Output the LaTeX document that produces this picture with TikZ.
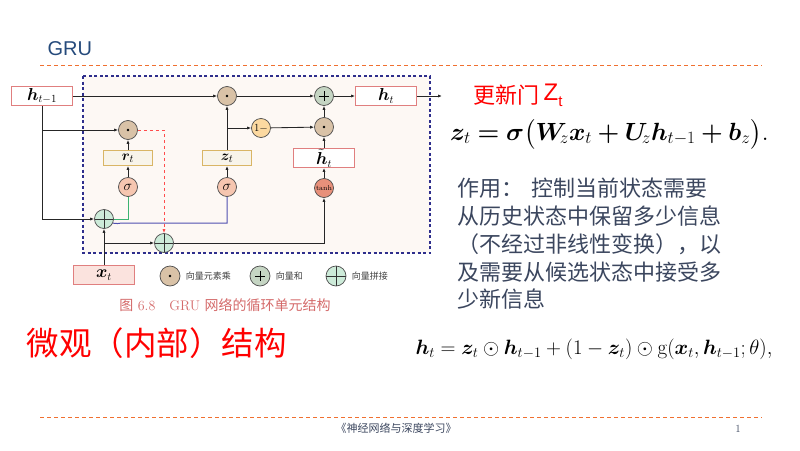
\documentclass[tikz,border=0pt]{standalone}
\usepackage{amsmath,bm}
\usepackage{fontspec}
\newfontfamily\cjk{Noto Sans CJK SC}
\newfontfamily\arial{Liberation Sans}
\usetikzlibrary{arrows.meta,positioning}
\definecolor{mulc}{HTML}{D9C2A7}
\definecolor{addc}{HTML}{C5D5C3}
\definecolor{catc}{HTML}{CDEBD9}
\definecolor{sigc}{HTML}{F6C6B0}
\definecolor{tanhc}{HTML}{E8907A}
\definecolor{onec}{HTML}{FCD9A0}
\definecolor{hbord}{HTML}{E07F7F}
\definecolor{gbord}{HTML}{D9B565}
\definecolor{gfill}{HTML}{F8F4EA}
\definecolor{xfill}{HTML}{FBE3DE}
\definecolor{cellbg}{HTML}{FDF8F4}
\definecolor{navy}{HTML}{2E2E8C}
\definecolor{rulec}{HTML}{F07030}
\definecolor{titlec}{HTML}{254A7B}
\definecolor{bodyc}{HTML}{3B465E}
\definecolor{capc}{HTML}{D46A6A}
\definecolor{rlinec}{HTML}{3CB371}
\definecolor{zlinec}{HTML}{5050B0}
\newcommand{\zgate}{$\bm{z}_t\bm{=}\bm{\sigma}\bigl(\bm{W}_{\!z}\bm{x}_t\bm{+}\bm{U}_{\!z}\bm{h}_{t-1}\bm{+}\bm{b}_z\bigr).$}
\newcommand{\hupd}{$\bm{h}_t=\bm{z}_t\odot\bm{h}_{t-1}+(1-\bm{z}_t)\odot\mathrm{g}(\bm{x}_t,\bm{h}_{t-1};\theta),$}
\tikzset{box/.style={draw=hbord,fill=white,minimum width=61pt,minimum height=19pt,inner sep=0pt,line width=0.9pt,font=\fontsize{16}{18}\selectfont},
  gatebox/.style={box,draw=gbord,fill=gfill,minimum width=49pt,minimum height=15pt,font=\fontsize{15}{17}\selectfont},
  op/.style={circle,draw=black!70,line width=0.7pt,minimum size=19pt,inner sep=0pt},
  mul/.style={op,fill=mulc,path picture={\fill[black] (path picture bounding box.center) circle (1.4pt);}},
  add/.style={op,fill=addc,path picture={\draw[black,line width=1pt] ([xshift=-5pt]path picture bounding box.center) -- ([xshift=5pt]path picture bounding box.center)
      ([yshift=-5pt]path picture bounding box.center) -- ([yshift=5pt]path picture bounding box.center);}},
  cat/.style={op,fill=catc,path picture={\draw[black!80,line width=0.7pt] (path picture bounding box.west) -- (path picture bounding box.east)
      (path picture bounding box.north) -- (path picture bounding box.south);}},
  act/.style={op,fill=sigc,font=\fontsize{15}{16}\selectfont},
  arr/.style={-{Latex[length=4pt,width=3.2pt]},line width=0.85pt,draw=black!85},
  legtext/.style={right=2pt,font=\cjk\fontsize{9}{10}\selectfont,text=black!75}}

\begin{document}
\begin{tikzpicture}[x=1pt,y=-1pt]
\useasboundingbox (0,0) rectangle (800,450);
% slide frame
\node[anchor=west,font=\arial\fontsize{20}{24}\selectfont,text=titlec] (title) at (44,49) {GRU};
\draw[rulec,line width=0.9pt,dash pattern=on 4pt off 3pt] (40,65) -- (762,65);
\draw[rulec,line width=0.9pt,dash pattern=on 4pt off 3pt] (40,417) -- (762,417);
\node[font=\cjk\fontsize{11}{13}\selectfont,text=bodyc] (book) at (396,428) {《神经网络与深度学习》};
\node[font=\fontsize{11}{13}\selectfont,text=bodyc] (page) at (738,429) {1};

% cell
\draw[navy,line width=1.6pt,dash pattern=on 3pt off 2.5pt,fill=cellbg] (83,76) rectangle (430,253);
\node[box] (hprev) at (42,96) {$\bm{h}_{t-1}$};
\node[mul] (mtop) at (227,96) {};
\node[add] (sum) at (324,96) {};
\node[box] (hout) at (386,96) {$\bm{h}_t$};
\coordinate (out) at (442,96);
\node[mul] (mr) at (128,130) {};
\node[gatebox] (rt) at (128,158) {$\bm{r}_t$};
\node[act] (sr) at (128,187) {$\sigma$};
\node[gatebox] (zt) at (227,158) {$\bm{z}_t$};
\node[act] (sz) at (227,187) {$\sigma$};
\node[op,fill=onec,font=\fontsize{11}{12}\selectfont] (one) at (261,128) {1$-$};
\node[mul] (mh) at (324,127) {};
\node[box] (htil) at (324,158) {$\tilde{\bm{h}}_t$};
\node[act,fill=tanhc,font=\fontsize{7}{8}\selectfont] (tanh) at (324,188) {tanh};
\node[cat] (c1) at (104,219) {};
\node[cat] (c2) at (164,243) {};
\node[box,fill=xfill] (xt) at (104,275) {$\bm{x}_t$};
\coordinate (bend) at (122,223);

\draw[arr] (hprev) -- (mtop);
\draw[arr] (mtop) -- (sum);
\draw[arr] (sum) -- (hout);
\draw[arr] (hout) -- (out);
\draw[arr] (hprev.south) |- (c1);
\draw[arr] (hprev.south |- mr) -- (mr);
\draw[red!70,line width=0.8pt,dashed,-{Latex[length=4pt,width=3.2pt]}] (mr) -| (c2);
\draw[arr] (xt) -- (c1);
\draw[arr] (xt.north |- c2) -- (c2);
\draw[arr] (c2) -| (tanh);
\draw[rlinec,line width=1pt] (c1) -| (sr);
\draw[zlinec,line width=1pt] (c1.-25) to[out=-20,in=180] (bend) -| (sz);
\draw[arr] (sr) -- (rt);
\draw[arr] (rt) -- (mr);
\draw[arr] (sz) -- (zt);
\draw[arr] (zt) -- (mtop);
\draw[arr] (zt.north |- one) -- (one);
\draw[arr] (one) -- (mh);
\draw[arr] (tanh) -- (htil);
\draw[arr] (htil) -- (mh);
\draw[arr] (mh) -- (sum);

% legend
\node[mul,minimum size=20pt] (lmul) at (170,276) {};
\node[legtext] (lmult) at (lmul.east) {向量元素乘};
\node[add,minimum size=20pt] (ladd) at (260,276) {};
\node[legtext] (laddt) at (ladd.east) {向量和};
\node[cat,minimum size=20pt] (lcat) at (336,276) {};
\node[legtext] (lcatt) at (lcat.east) {向量拼接};
\node[font=\fontsize{14}{16}\selectfont,text=capc] (cap) at (225,305) {{\cjk 图}~6.8\quad GRU~{\cjk 网络的循环单元结构}};

% text
\node[anchor=west,inner sep=0pt,text=red,font=\cjk\fontsize{22}{26}\selectfont] (upd) at (473,95) {更新门};
\node[right=4pt of upd,text=red,font=\arial\fontsize{24}{28}\selectfont,inner sep=0pt] (zname) {Z\raisebox{-6pt}{\fontsize{15}{17}\selectfont t}};
\node[anchor=west,inner sep=0pt,font=\fontsize{24}{28}\selectfont] (zeq) at (450,134) {\zgate};
\node[anchor=west,align=left,text=bodyc,font=\cjk\fontsize{22}{27.7}\selectfont] (role) at (454,244) {作用：\hspace{0.35em}控制当前状态需要\\从历史状态中保留多少信息\\（不经过非线性变换），以\\及需要从候选状态中接受多\\少新信息};
\node[anchor=west,text=red,font=\cjk\fontsize{32.5}{38}\selectfont] (micro) at (23,343) {微观（内部）结构};
\node[anchor=west,font=\fontsize{21}{25}\selectfont] (heq) at (412,349) {\hupd};
\end{tikzpicture}
\end{document}
